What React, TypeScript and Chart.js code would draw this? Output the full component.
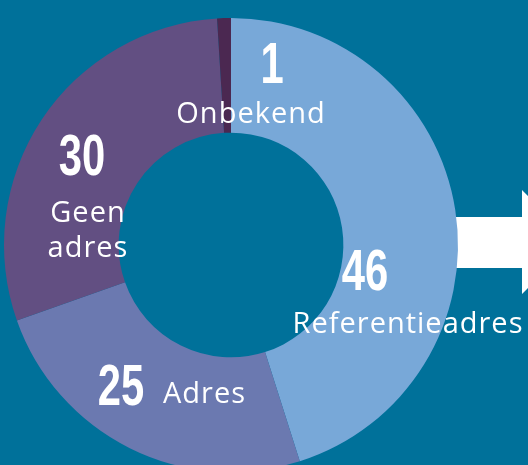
import React, { useEffect, useRef } from "react";
import { Chart, registerables } from "chart.js";

Chart.register(...registerables);

const categories = ["Referentieadres", "Adres", "Geen adres", "Onbekend"];
const values = [46, 25, 30, 1];
const colors = ["#78a8d8", "#6b79b0", "#624f82", "#4b2851"];
const bgColor = "#00719a";

// label placement offsets (px) relative to doughnut centre: [numX, numY, labelX, labelY, align]
const labelLines = [["Referentieadres"], ["Adres"], ["Geen", "adres"], ["Onbekend"]];
const labelOffsets: [number, number, number, number, CanvasTextAlign][] = [
  [134, 45, 177, 88, "center"],
  [-110, 160, -68, 158, "left"],
  [-149, -70, -143, -23, "center"],
  [41, -162, 20, -122, "center"],
];

const arrowPlugin = {
  id: "arrow",
  beforeDatasetsDraw(chart: any) {
    const ctx = chart.ctx;
    ctx.save();
    ctx.fillStyle = "#ffffff";
    ctx.beginPath();
    ctx.moveTo(430, 217);
    ctx.lineTo(522, 217);
    ctx.lineTo(522, 190);
    ctx.lineTo(574, 242);
    ctx.lineTo(522, 294);
    ctx.lineTo(522, 268);
    ctx.lineTo(430, 268);
    ctx.closePath();
    ctx.fill();
    ctx.restore();
  },
};

const labelPlugin = {
  id: "labels",
  afterDatasetsDraw(chart: any) {
    const ctx = chart.ctx;
    const meta = chart.getDatasetMeta(0);
    ctx.save();
    ctx.fillStyle = "#ffffff";
    ctx.textBaseline = "alphabetic";
    meta.data.forEach((arc: any, i: number) => {
      const cx = arc.x;
      const cy = arc.y;
      const [nx, ny, lx, ly, align] = labelOffsets[i];
      // number, condensed
      ctx.save();
      ctx.translate(cx + nx, cy + ny);
      ctx.scale(0.72, 1);
      ctx.font = "bold 58px 'Liberation Sans', Arial, sans-serif";
      ctx.textAlign = "center";
      ctx.fillText(String(values[i]), 0, 0);
      ctx.restore();
      // label
      ctx.font = "400 29px 'Open Sans', sans-serif";
      (ctx as any).letterSpacing = "1px";
      ctx.textAlign = align;
      labelLines[i].forEach((line, j) => {
        ctx.fillText(line, cx + lx, cy + ly + j * 35);
      });
      (ctx as any).letterSpacing = "0px";
    });
    ctx.restore();
  },
};

export default function App() {
  const ref = useRef<HTMLCanvasElement | null>(null);
  useEffect(() => {
    if (!ref.current) return;
    const chart = new Chart(ref.current, {
      type: "doughnut",
      data: {
        labels: categories,
        datasets: [
          {
            data: values,
            backgroundColor: colors,
            borderWidth: 0,
            clip: false as any,
          },
        ],
      },
      options: {
        animation: false,
        responsive: false,
        maintainAspectRatio: false,
        cutout: "49.5%",
        rotation: 0,
        layout: { padding: { top: 18, bottom: 18, left: 4, right: 70 } },
        plugins: {
          legend: { display: false },
          tooltip: { enabled: false },
        },
      },
      plugins: [arrowPlugin, labelPlugin],
    });
    return () => chart.destroy();
  }, []);
  return (
    <div
      style={{
        position: "fixed",
        left: 0,
        top: 0,
        width: 528,
        height: 465,
        overflow: "hidden",
        background: bgColor,
      }}
    >
      <canvas ref={ref} width={528} height={490} style={{ display: "block", width: 528, height: 490 }} />
    </div>
  );
}
